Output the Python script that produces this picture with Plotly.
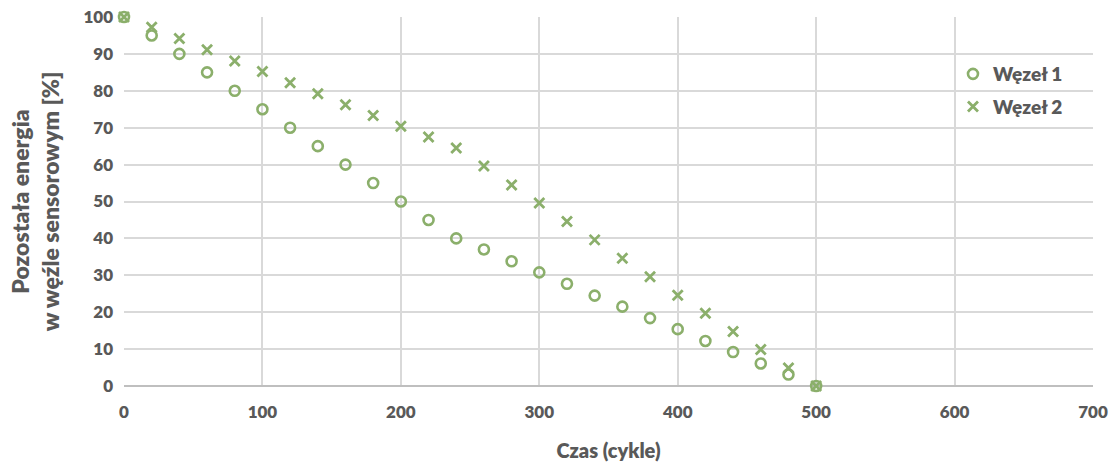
import plotly.graph_objects as go

czas = [0, 20, 40, 60, 80, 100, 120, 140, 160, 180, 200, 220, 240, 260, 280,
        300, 320, 340, 360, 380, 400, 420, 440, 460, 480, 500]
wezel1 = [100, 95, 90, 85, 80, 75, 70, 65, 60, 55, 50, 45, 40, 37, 33.8,
          30.8, 27.7, 24.5, 21.5, 18.4, 15.4, 12.2, 9.2, 6.1, 3.1, 0]
wezel2 = [100, 97.2, 94.2, 91.1, 88.1, 85.2, 82.2, 79.2, 76.2, 73.3, 70.4, 67.5, 64.5, 59.6, 54.5,
          49.6, 44.6, 39.6, 34.6, 29.6, 24.6, 19.7, 14.8, 9.9, 4.9, 0]

GREEN = "#8BAF6B"
TXT = "#595959"
FONT = "Lato"
W = 800

fig = go.Figure()
fig.add_trace(go.Scatter(x=czas, y=wezel1, mode="markers", name="Węzeł 1",
                         legendgroup="a", cliponaxis=False,
                         marker=dict(symbol="circle-open", size=10, color=GREEN,
                                     line=dict(width=2.6, color=GREEN))))
fig.add_trace(go.Scatter(x=czas, y=wezel2, mode="markers", name="Węzeł 2",
                         legendgroup="b", cliponaxis=False,
                         marker=dict(symbol="x-thin-open", size=10, color=GREEN,
                                     line=dict(width=2.8, color=GREEN))))

fig.update_layout(
    width=1115, height=463,
    margin=dict(l=124, r=22, t=17, b=77),
    plot_bgcolor="white", paper_bgcolor="white",
    font=dict(family=FONT, color=TXT, size=17, weight=W),
    showlegend=True,
    legend=dict(x=0.8555, y=0.897, xanchor="left", yanchor="top",
                font=dict(family=FONT, size=19, color=TXT, weight=W),
                bgcolor="rgba(0,0,0,0)", tracegroupgap=5, itemwidth=30),
    xaxis=dict(range=[0, 700], dtick=100, tick0=0, automargin=False,
               showgrid=True, gridcolor="#D9D9D9", gridwidth=1.5,
               zeroline=False, showline=False,
               ticks="", ticklabelstandoff=14,
               tickfont=dict(family=FONT, size=17, color=TXT, weight=W),
               title=dict(text="Czas (cykle)", standoff=22,
                          font=dict(family=FONT, size=20, color=TXT, weight=W))),
    yaxis=dict(range=[0, 100], dtick=10, tick0=0, automargin=False,
               showgrid=True, gridcolor="#D9D9D9", gridwidth=1.5,
               zeroline=True, zerolinecolor="#BFBFBF", zerolinewidth=2,
               showline=False, ticks="", ticklabelstandoff=10,
               tickfont=dict(family=FONT, size=17, color=TXT, weight=W),
               title=dict(text="Pozostała energia<br>w węźle sensorowym [%]", standoff=17,
                          font=dict(family=FONT, size=23, color=TXT, weight=W))),
)

fig.write_html("out.html")
